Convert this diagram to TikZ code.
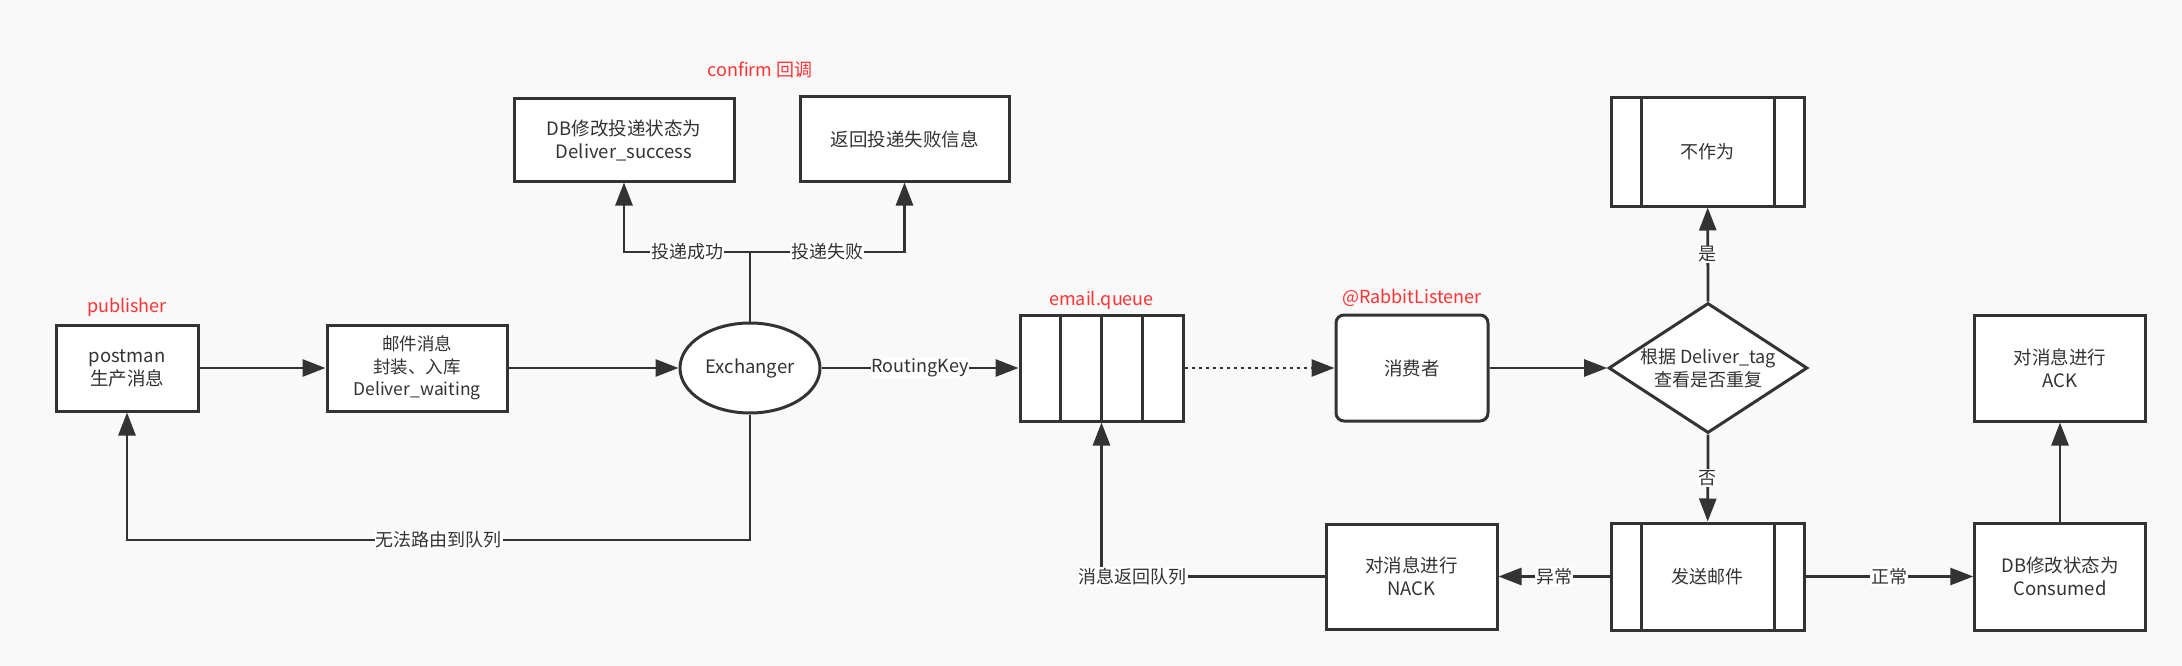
\documentclass[tikz,border=0pt]{standalone}
\usepackage{fontspec}
\newfontfamily\cjk{Noto Sans CJK SC}
\usetikzlibrary{arrows.meta,shapes.geometric,calc}
\definecolor{ink}{HTML}{333333}
\definecolor{redtxt}{HTML}{FF3333}
\definecolor{bg}{HTML}{F9F9F9}
\begin{document}
\begin{tikzpicture}[x=1pt,y=-1pt,
  every node/.style={font=\cjk\fontsize{18.5}{23}\selectfont, text=ink},
  box/.style={draw=ink, line width=3pt, fill=white, rectangle, inner sep=0pt, align=center},
  redlbl/.style={text=redtxt, font=\cjk\fontsize{18}{22}\selectfont, inner sep=0pt},
  lbl/.style={fill=white, inner sep=1pt, font=\cjk\fontsize{18}{22}\selectfont},
  arr/.style={draw=ink, line width=2.8pt, -{Triangle[length=23pt,width=17pt]}},
  conn/.style={draw=ink, line width=2.8pt},
  procbox/.style={path picture={
    \draw[ink, line width=3pt]
      ([xshift=30pt]path picture bounding box.north west) -- ([xshift=30pt]path picture bounding box.south west)
      ([xshift=-30pt]path picture bounding box.north east) -- ([xshift=-30pt]path picture bounding box.south east);}},
  queuebox/.style={path picture={
    \foreach \f in {0.25,0.5,0.75}
      \draw[ink, line width=3pt]
        ($(path picture bounding box.north west)!\f!(path picture bounding box.north east)$) --
        ($(path picture bounding box.south west)!\f!(path picture bounding box.south east)$);}}
]
\fill[bg] (0,0) rectangle (2182,666);
\useasboundingbox (0,0) rectangle (2182,666);

% nodes
\node[box, minimum width=142, minimum height=86] (postman) at (127,368) {postman\\生产消息};
\node[redlbl] (publab) at (127,307) {publisher};
\node[box, minimum width=180, minimum height=86, font=\cjk\fontsize{17.5}{22.5}\selectfont] (mail) at (417,368) {邮件消息\\封装、入库\\Deliver\_waiting};
\node[draw=ink, line width=3pt, fill=white, ellipse, minimum width=140, minimum height=90, inner sep=0pt] (exch) at (750,368) {Exchanger};
\node[box, minimum width=220, minimum height=82] (dbs) at (624,140) {DB修改投递状态为\\Deliver\_success};
\node[box, minimum width=209, minimum height=84] (fail) at (904.5,139) {返回投递失败信息};
\node[redlbl] (conf) at (760,70) {confirm 回调};
\node[box, queuebox, minimum width=163, minimum height=106] (queue) at (1101.5,368) {};
\node[redlbl] (qlab) at (1101.5,300) {email.queue};
\node[box, rounded corners=8pt, minimum width=152, minimum height=106] (cons) at (1412,368) {消费者};
\node[redlbl] (rlab) at (1412,298) {@RabbitListener};
\node[draw=ink, line width=3pt, fill=white, diamond, shape aspect=1.6, minimum width=197, minimum height=130, inner sep=0pt, align=center, font=\cjk\fontsize{18}{23}\selectfont] (dec) at (1708,368) {根据 Deliver\_tag\\查看是否重复};
\node[box, procbox, minimum width=193, minimum height=108, font=\cjk\fontsize{18}{22}\selectfont] (none) at (1707.5,152) {不作为};
\node[box, minimum width=170.5, minimum height=106] (ack) at (2060,368) {对消息进行\\ACK};
\node[box, procbox, minimum width=193, minimum height=107, font=\cjk\fontsize{18}{22}\selectfont] (send) at (1707.5,576.5) {发送邮件};
\node[box, minimum width=170.5, minimum height=107] (consumed) at (2060,576.5) {DB修改状态为\\Consumed};
\node[box, minimum width=171, minimum height=105] (nack) at (1411.5,576.5) {对消息进行\\NACK};

\coordinate (br) at (750,252);
\coordinate (loopR) at (750,540);
\coordinate (loopL) at (127,540);

% connectors
\draw[arr] (postman) -- (mail);
\draw[arr] (mail) -- (exch);
\draw[arr] (exch) -- node[lbl] {RoutingKey} (queue);
\draw[arr, dash pattern=on 3.5pt off 3.5pt] (queue) -- (cons);
\draw[arr] (cons) -- (dec.west);
\draw[arr] (dec.north) -- node[lbl] {是} (none);
\draw[arr] (dec.south) -- node[lbl] {否} (send);
\draw[arr] (send) -- node[lbl] {正常} (consumed);
\draw[arr] (consumed) -- (ack);
\draw[arr] (send) -- node[lbl] {异常} (nack);
\draw[arr] (nack.west) -| node[lbl, pos=0.43] {消息返回队列} (queue.south);
\draw[conn] (exch.north) -- (br);
\draw[arr] (br) -| node[lbl, pos=0.25] {投递成功} (dbs.south);
\draw[arr] (br) -| node[lbl, pos=0.25] {投递失败} (fail.south);
\draw[arr] (exch.south) -- (loopR) -- node[lbl] {无法路由到队列} (loopL) -- (postman.south);
\end{tikzpicture}
\end{document}
